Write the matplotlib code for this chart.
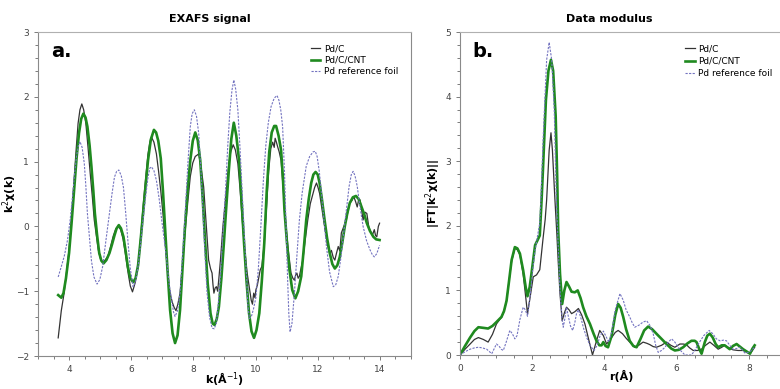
import matplotlib
matplotlib.use('Agg')
import matplotlib.pyplot as plt
from matplotlib.ticker import MultipleLocator

# EXAFS signal, k (1/A) vs k^2 chi(k)
k_pdc = [3.65, 3.75, 3.84, 3.92, 4.0, 4.08, 4.16, 4.23, 4.29, 4.35, 4.41, 4.47, 4.54, 4.61, 4.68, 4.75,
         4.81, 4.88, 4.94, 5.01, 5.08, 5.16, 5.25, 5.33, 5.42, 5.5, 5.58, 5.66, 5.74, 5.82, 5.9, 5.97,
         6.04, 6.12, 6.22, 6.3, 6.38, 6.46, 6.54, 6.6, 6.65, 6.73, 6.81, 6.88, 6.95, 7.02, 7.1, 7.18,
         7.25, 7.32, 7.38, 7.44, 7.5, 7.57, 7.65, 7.73, 7.82, 7.9, 7.98, 8.06, 8.12, 8.17, 8.25, 8.33,
         8.41, 8.49, 8.55, 8.6, 8.63, 8.66, 8.7, 8.74, 8.78, 8.82, 8.87, 8.95, 9.03, 9.1, 9.14, 9.2,
         9.28, 9.35, 9.43, 9.5, 9.57, 9.65, 9.73, 9.8, 9.86, 9.9, 9.94, 9.98, 10.01, 10.06, 10.1, 10.15,
         10.2, 10.28, 10.36, 10.42, 10.49, 10.55, 10.6, 10.63, 10.67, 10.71, 10.76, 10.82, 10.9, 10.98,
         11.06, 11.14, 11.2, 11.25, 11.29, 11.33, 11.37, 11.41, 11.46, 11.52, 11.6, 11.68, 11.76, 11.85,
         11.9, 11.96, 12.01, 12.06, 12.14, 12.22, 12.3, 12.36, 12.39, 12.44, 12.5, 12.55, 12.6, 12.66,
         12.71, 12.76, 12.84, 12.92, 12.98, 13.03, 13.1, 13.16, 13.22, 13.27, 13.32, 13.36, 13.41, 13.46,
         13.52, 13.58, 13.64, 13.71, 13.77, 13.82, 13.86, 13.9, 13.95, 13.99]
chi_pdc = [-1.72, -1.3, -1.03, -0.7, -0.36, 0.15, 0.71, 1.2, 1.59, 1.8, 1.89, 1.8, 1.59, 1.22, 0.82, 0.45,
           0.1, -0.15, -0.36, -0.5, -0.55, -0.52, -0.46, -0.32, -0.15, -0.04, 0.0, -0.05, -0.2, -0.45, -0.72, -0.92,
           -1.01, -0.88, -0.62, -0.18, 0.3, 0.72, 1.12, 1.3, 1.38, 1.3, 1.12, 0.85, 0.55, 0.2, -0.3, -0.75,
           -1.03, -1.17, -1.25, -1.3, -1.2, -1.03, -0.58, -0.1, 0.38, 0.77, 0.98, 1.08, 1.1, 1.12, 0.9, 0.61,
           0.05, -0.52, -0.65, -0.72, -0.9, -1.03, -0.95, -0.93, -1.0, -0.8, -0.52, 0.0, 0.41, 0.78, 0.97, 1.15,
           1.26, 1.18, 0.97, 0.58, 0.1, -0.35, -0.72, -0.95, -1.14, -1.2, -1.03, -1.1, -0.98, -0.9, -0.8, -0.67,
           -0.62, -0.26, 0.35, 0.85, 1.2, 1.3, 1.22, 1.36, 1.3, 1.23, 1.15, 1.02, 0.5, 0.0,
           -0.4, -0.72, -0.8, -0.83, -0.75, -0.72, -0.8, -0.77, -0.65, -0.52, -0.2, 0.1, 0.35, 0.51,
           0.6, 0.67, 0.6, 0.51, 0.25, 0.0, -0.25, -0.38, -0.42, -0.37, -0.48, -0.52, -0.42, -0.31,
           -0.38, -0.1, 0.0, 0.1, 0.25, 0.36, 0.4, 0.46, 0.38, 0.3, 0.42, 0.41, 0.25, 0.1,
           0.22, 0.2, 0.0, -0.1, -0.12, -0.05, -0.14, -0.16, 0.0, 0.05]

k_cnt = [3.65, 3.75, 3.82, 3.9, 4.0, 4.08, 4.16, 4.24, 4.32, 4.39, 4.46, 4.53, 4.59, 4.66, 4.72, 4.78,
         4.83, 4.9, 4.97, 5.04, 5.11, 5.2, 5.3, 5.38, 5.46, 5.53, 5.6, 5.67, 5.75, 5.82, 5.89, 5.97,
         6.06, 6.14, 6.22, 6.3, 6.38, 6.46, 6.54, 6.63, 6.73, 6.8, 6.87, 6.95, 7.02, 7.08, 7.16, 7.25,
         7.33, 7.41, 7.49, 7.57, 7.65, 7.73, 7.82, 7.9, 7.98, 8.06, 8.14, 8.22, 8.3, 8.38, 8.46, 8.55,
         8.62, 8.68, 8.75, 8.82, 8.9, 8.98, 9.06, 9.14, 9.22, 9.3, 9.38, 9.47, 9.55, 9.63, 9.71, 9.79,
         9.87, 9.95, 10.03, 10.12, 10.2, 10.28, 10.36, 10.44, 10.52, 10.6, 10.66, 10.74, 10.82, 10.88,
         10.93, 11.01, 11.09, 11.18, 11.28, 11.37, 11.47, 11.55, 11.63, 11.71, 11.79, 11.86, 11.93, 12.0,
         12.06, 12.14, 12.22, 12.3, 12.39, 12.47, 12.55, 12.63, 12.71, 12.79, 12.87, 12.95, 13.03, 13.13,
         13.23, 13.32, 13.41, 13.5, 13.58, 13.68, 13.79, 13.88, 13.99]
chi_cnt = [-1.06, -1.1, -1.03, -0.8, -0.41, 0.05, 0.56, 1.05, 1.44, 1.66, 1.74, 1.68, 1.54, 1.25, 0.92, 0.55,
           0.2, -0.13, -0.41, -0.53, -0.57, -0.52, -0.41, -0.28, -0.14, -0.03, 0.02, -0.03, -0.16, -0.38, -0.62, -0.8,
           -0.86, -0.8, -0.6, -0.22, 0.2, 0.62, 1.02, 1.34, 1.49, 1.45, 1.32, 1.05, 0.55, 0.05, -0.62, -1.29,
           -1.65, -1.8, -1.68, -1.29, -0.65, 0.0, 0.6, 1.02, 1.32, 1.45, 1.33, 1.02, 0.42, -0.26, -0.88, -1.34,
           -1.5, -1.52, -1.43, -1.24, -0.8, -0.26, 0.32, 0.87, 1.35, 1.6, 1.4, 1.02, 0.4, -0.26, -0.85, -1.34,
           -1.62, -1.72, -1.6, -1.34, -0.85, -0.26, 0.55, 1.15, 1.45, 1.55, 1.55, 1.4, 1.18, 0.75,
           0.25, -0.25, -0.67, -0.98, -1.11, -1.0, -0.77, -0.35, 0.1, 0.42, 0.67, 0.8, 0.84, 0.8,
           0.67, 0.4, 0.1, -0.18, -0.42, -0.58, -0.65, -0.6, -0.47, -0.25, 0.0, 0.2, 0.36, 0.45,
           0.47, 0.42, 0.3, 0.18, 0.05, -0.07, -0.16, -0.2, -0.21]

k_foil = [3.65, 3.75, 3.85, 3.95, 4.03, 4.1, 4.17, 4.24, 4.3, 4.35, 4.42, 4.49, 4.54, 4.59, 4.66, 4.72,
          4.8, 4.9, 4.99, 5.08, 5.19, 5.3, 5.38, 5.46, 5.53, 5.6, 5.68, 5.75, 5.82, 5.89, 5.97, 6.06,
          6.14, 6.22, 6.3, 6.38, 6.46, 6.54, 6.6, 6.65, 6.73, 6.81, 6.9, 6.98, 7.06, 7.14, 7.22, 7.3,
          7.36, 7.41, 7.49, 7.57, 7.65, 7.73, 7.82, 7.9, 7.96, 8.03, 8.1, 8.17, 8.25, 8.33, 8.38, 8.44,
          8.52, 8.6, 8.67, 8.74, 8.8, 8.87, 8.95, 9.03, 9.1, 9.17, 9.24, 9.3, 9.36, 9.43, 9.5, 9.57,
          9.64, 9.71, 9.75, 9.8, 9.86, 9.93, 10.01, 10.09, 10.17, 10.25, 10.33, 10.41, 10.5, 10.6, 10.69, 10.75,
          10.81, 10.87, 10.93, 10.98, 11.03, 11.07, 11.11, 11.17, 11.25, 11.33, 11.41, 11.5, 11.63, 11.74, 11.85, 11.92,
          11.98, 12.05, 12.12, 12.2, 12.28, 12.38, 12.5, 12.58, 12.66, 12.74, 12.82, 12.92, 13.01, 13.08, 13.14, 13.2,
          13.27, 13.36, 13.46, 13.57, 13.68, 13.76, 13.82, 13.9, 13.99]
chi_foil = [-0.78, -0.62, -0.45, -0.21, 0.08, 0.41, 0.78, 1.08, 1.25, 1.31, 1.22, 0.97, 0.62, 0.2, -0.2, -0.53,
            -0.78, -0.89, -0.82, -0.62, -0.2, 0.2, 0.5, 0.76, 0.85, 0.87, 0.78, 0.6, 0.22, -0.21, -0.65, -0.93,
            -0.85, -0.62, -0.28, 0.1, 0.45, 0.76, 0.9, 0.92, 0.86, 0.71, 0.42, 0.1, -0.2, -0.52, -0.88, -1.14,
            -1.32, -1.39, -1.3, -1.03, -0.45, 0.16, 0.95, 1.54, 1.74, 1.8, 1.7, 1.44, 0.8, 0.0, -0.5, -1.03,
            -1.4, -1.57, -1.58, -1.49, -1.2, -0.77, -0.1, 0.52, 1.2, 1.75, 2.1, 2.26, 2.12, 1.8, 1.2, 0.52,
            -0.15, -0.77, -1.2, -1.42, -1.4, -1.28, -1.1, -0.65, 0.0, 0.7, 1.25, 1.6, 1.85, 1.98, 2.02, 1.95,
            1.8, 1.54, 0.85, 0.0, -0.8, -1.35, -1.63, -1.5, -1.03, -0.45, 0.1, 0.52, 0.93, 1.08, 1.15, 1.16,
            1.08, 0.85, 0.51, 0.1, -0.31, -0.7, -0.93, -0.9, -0.77, -0.5, -0.16, 0.25, 0.62, 0.8, 0.85, 0.78,
            0.62, 0.3, 0.0, -0.22, -0.36, -0.44, -0.47, -0.42, -0.29]

# Data modulus, r (A) vs |FT|
r_pdc = [0, 0.14, 0.28, 0.4, 0.51, 0.65, 0.78, 0.9, 1.01, 1.1, 1.15, 1.22, 1.29, 1.36, 1.43, 1.52,
         1.59, 1.66, 1.75, 1.82, 1.87, 1.93, 2.03, 2.12, 2.21, 2.3, 2.36, 2.4, 2.47, 2.52, 2.56, 2.63,
         2.68, 2.72, 2.77, 2.83, 2.89, 2.95, 3.02, 3.09, 3.18, 3.28, 3.37, 3.46, 3.56, 3.67, 3.77, 3.87,
         3.97, 4.06, 4.2, 4.3, 4.38, 4.5, 4.6, 4.7, 4.84, 4.95, 5.07, 5.18, 5.26, 5.35, 5.44, 5.58,
         5.72, 5.84, 5.95, 6.09, 6.18, 6.27, 6.36, 6.46, 6.58, 6.69, 6.8, 6.92, 7.03, 7.15, 7.25, 7.33,
         7.45, 7.56, 7.7, 7.84, 7.95, 8.03, 8.1, 8.16]
ft_pdc = [0, 0.09, 0.17, 0.24, 0.27, 0.24, 0.2, 0.32, 0.48, 0.55, 0.58, 0.68, 0.84, 1.15, 1.45, 1.65,
          1.63, 1.55, 1.25, 0.9, 0.64, 0.85, 1.21, 1.24, 1.32, 1.8, 2.1, 2.4, 3.17, 3.44, 3.17, 2.4,
          1.9, 1.45, 0.95, 0.53, 0.65, 0.74, 0.7, 0.64, 0.67, 0.72, 0.62, 0.48, 0.25, 0.0, 0.2, 0.38,
          0.3, 0.17, 0.27, 0.35, 0.38, 0.33, 0.26, 0.2, 0.12, 0.15, 0.2, 0.18, 0.16, 0.13, 0.12, 0.15,
          0.2, 0.15, 0.12, 0.17, 0.17, 0.16, 0.11, 0.07, 0.07, 0.09, 0.15, 0.2, 0.15, 0.09, 0.12, 0.15,
          0.11, 0.08, 0.07, 0.07, 0.04, 0.02, 0.07, 0.12]

r_cnt = [0, 0.14, 0.28, 0.4, 0.51, 0.65, 0.78, 0.9, 1.01, 1.15, 1.22, 1.29, 1.36, 1.43, 1.52, 1.59,
         1.66, 1.75, 1.82, 1.87, 1.93, 1.98, 2.08, 2.15, 2.21, 2.26, 2.3, 2.38, 2.45, 2.52, 2.58, 2.65,
         2.69, 2.72, 2.77, 2.83, 2.89, 2.95, 3.02, 3.09, 3.18, 3.26, 3.34, 3.41, 3.5, 3.6, 3.7, 3.78,
         3.86, 3.92, 3.97, 4.03, 4.1, 4.2, 4.3, 4.38, 4.45, 4.52, 4.6, 4.7, 4.8, 4.89, 5.0, 5.1,
         5.21, 5.32, 5.44, 5.58, 5.72, 5.85, 5.95, 6.06, 6.18, 6.3, 6.41, 6.5, 6.55, 6.62, 6.69, 6.78,
         6.85, 6.92, 7.0, 7.08, 7.15, 7.25, 7.33, 7.4, 7.47, 7.56, 7.66, 7.75, 7.84, 7.95, 8.03, 8.1, 8.16]
ft_cnt = [0, 0.14, 0.27, 0.37, 0.43, 0.42, 0.41, 0.45, 0.51, 0.59, 0.68, 0.84, 1.15, 1.47, 1.67, 1.65,
          1.57, 1.31, 1.05, 0.91, 1.05, 1.26, 1.7, 1.78, 1.85, 2.4, 2.9, 3.95, 4.4, 4.57, 4.4, 3.7,
          2.8, 1.93, 1.26, 0.79, 1.0, 1.13, 1.06, 0.98, 0.97, 1.0, 0.88, 0.74, 0.6, 0.48, 0.33, 0.22,
          0.15, 0.15, 0.2, 0.14, 0.12, 0.3, 0.62, 0.79, 0.73, 0.59, 0.4, 0.22, 0.14, 0.12, 0.25, 0.38,
          0.44, 0.4, 0.33, 0.25, 0.17, 0.1, 0.07, 0.08, 0.12, 0.18, 0.22, 0.22, 0.2, 0.1, 0.02, 0.2,
          0.3, 0.33, 0.27, 0.17, 0.12, 0.15, 0.15, 0.12, 0.09, 0.14, 0.17, 0.13, 0.09, 0.05, 0.02, 0.1, 0.15]

r_foil = [0, 0.14, 0.28, 0.4, 0.51, 0.62, 0.74, 0.82, 0.88, 0.95, 1.01, 1.08, 1.14, 1.2, 1.28, 1.38,
          1.45, 1.52, 1.58, 1.66, 1.75, 1.81, 1.87, 1.95, 2.02, 2.08, 2.15, 2.21, 2.24, 2.3, 2.35, 2.4,
          2.47, 2.54, 2.61, 2.67, 2.72, 2.77, 2.83, 2.86, 2.9, 2.95, 3.0, 3.06, 3.12, 3.18, 3.23, 3.28,
          3.36, 3.43, 3.51, 3.6, 3.71, 3.8, 3.88, 3.97, 4.05, 4.12, 4.2, 4.3, 4.43, 4.52, 4.6, 4.7,
          4.77, 4.84, 4.95, 5.07, 5.17, 5.27, 5.35, 5.42, 5.49, 5.58, 5.68, 5.77, 5.86, 5.95, 6.09, 6.23,
          6.32, 6.41, 6.5, 6.6, 6.75, 6.9, 7.0, 7.1, 7.2, 7.3, 7.38, 7.47, 7.56, 7.66, 7.75, 7.82,
          7.89, 7.98, 8.07, 8.16]
ft_foil = [0, 0.05, 0.09, 0.11, 0.12, 0.11, 0.09, 0.05, 0.02, 0.1, 0.17, 0.14, 0.09, 0.07, 0.2, 0.38,
           0.33, 0.25, 0.3, 0.55, 0.74, 0.7, 0.6, 0.95, 1.35, 1.62, 1.85, 2.04, 2.4, 3.3, 3.95, 4.57,
           4.84, 4.57, 3.8, 2.4, 1.7, 1.0, 0.55, 0.43, 0.55, 0.74, 0.6, 0.45, 0.38, 0.5, 0.65, 0.7,
           0.55, 0.4, 0.27, 0.15, 0.07, 0.15, 0.3, 0.37, 0.28, 0.2, 0.35, 0.7, 0.95, 0.85, 0.7, 0.59,
           0.5, 0.43, 0.46, 0.51, 0.53, 0.45, 0.33, 0.15, 0.04, 0.07, 0.12, 0.2, 0.25, 0.2, 0.08, 0.0,
           0.0, 0.0, 0.07, 0.17, 0.3, 0.38, 0.33, 0.25, 0.22, 0.23, 0.22, 0.15, 0.09, 0.1, 0.12, 0.08,
           0.03, 0.04, 0.07, 0.12]

labels = ['Pd/C', 'Pd/C/CNT', 'Pd reference foil']
col_pdc = '#333333'
col_cnt = '#1f8a1f'
col_foil = '#7373c0'

plt.rcParams['font.family'] = 'DejaVu Sans'

fig = plt.figure(figsize=(7.8, 3.89), dpi=100)
ax1 = fig.add_axes([0.0487, 0.0848, 0.4782, 0.8329])
ax2 = fig.add_axes([0.5897, 0.0874, 0.4167, 0.8303])

def style_axes(ax):
    for s in ax.spines.values():
        s.set_color('#8a8a8a')
        s.set_linewidth(0.8)
    ax.spines['top'].set_color('#b0b0b0')
    ax.tick_params(which='both', direction='out', colors='#666666', labelsize=6.5,
                   labelcolor='#444444', width=0.6)
    ax.tick_params(which='major', length=3)
    ax.tick_params(which='minor', length=2)

# a. EXAFS signal
ax1.plot(k_pdc, chi_pdc, color=col_pdc, lw=0.9, label=labels[0])
ax1.plot(k_cnt, chi_cnt, color=col_cnt, lw=1.9, label=labels[1])
ax1.plot(k_foil, chi_foil, color=col_foil, lw=0.8, ls=(0, (2, 1.2)), label=labels[2])
ax1.set_xlim(3, 15)
ax1.set_ylim(-2, 3)
ax1.xaxis.set_major_locator(MultipleLocator(2))
ax1.xaxis.set_minor_locator(MultipleLocator(0.5))
ax1.yaxis.set_major_locator(MultipleLocator(1))
ax1.yaxis.set_minor_locator(MultipleLocator(0.2))
style_axes(ax1)
ax1.set_title('EXAFS signal', fontsize=8, fontweight='bold', x=0.461, pad=7)
ax1.set_xlabel('k(Å$^{-1}$)', fontsize=8, fontweight='bold')
ax1.xaxis.set_label_coords(0.5, -0.045)
ax1.set_ylabel('k$^{2}$χ(k)', fontsize=8, fontweight='bold')
ax1.yaxis.set_label_coords(-0.052, 0.5)
ax1.text(0.035, 0.94, 'a.', transform=ax1.transAxes, fontsize=14, fontweight='bold', va='center')
ax1.legend(loc='upper left', bbox_to_anchor=(0.72, 0.975), frameon=False, fontsize=6.5,
           handlelength=1.0, handletextpad=0.4, labelspacing=0.25, borderpad=0)

# b. Data modulus
ax2.plot(r_pdc, ft_pdc, color=col_pdc, lw=0.9, label=labels[0])
ax2.plot(r_cnt, ft_cnt, color=col_cnt, lw=1.9, label=labels[1])
ax2.plot(r_foil, ft_foil, color=col_foil, lw=0.8, ls=(0, (2, 1.2)), label=labels[2])
ax2.set_xlim(0, 9)
ax2.set_ylim(0, 5)
ax2.xaxis.set_major_locator(MultipleLocator(2))
ax2.xaxis.set_minor_locator(MultipleLocator(0.5))
ax2.yaxis.set_major_locator(MultipleLocator(1))
ax2.yaxis.set_minor_locator(MultipleLocator(0.2))
style_axes(ax2)
ax2.set_title('Data modulus', fontsize=8, fontweight='bold', x=0.46, pad=7)
ax2.set_xlabel('r(Å)', fontsize=8, fontweight='bold')
ax2.xaxis.set_label_coords(0.495, -0.045)
ax2.set_ylabel('|FT|k$^{2}$χ(k)||', fontsize=8, fontweight='bold')
ax2.yaxis.set_label_coords(-0.052, 0.5)
ax2.text(0.037, 0.94, 'b.', transform=ax2.transAxes, fontsize=14, fontweight='bold', va='center')
ax2.legend(loc='upper left', bbox_to_anchor=(0.68, 0.975), frameon=False, fontsize=6.5,
           handlelength=1.0, handletextpad=0.4, labelspacing=0.35, borderpad=0)

plt.savefig('out.png', dpi=100)
plt.close()
